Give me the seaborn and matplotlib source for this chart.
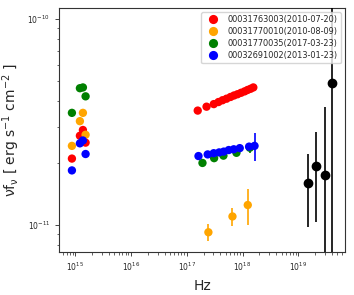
import numpy as np
import pandas as pd
import matplotlib
matplotlib.use("Agg")
import matplotlib.pyplot as plt
import seaborn as sns
from matplotlib.ticker import NullFormatter, LogLocator, FixedLocator

obs_ids = ["00031763003(2010-07-20)", "00031770010(2010-08-09)",
           "00031770035(2017-03-23)", "00032691002(2013-01-23)"]
colors = ["red", "orange", "green", "blue"]

# UVOT filters U, UVW1, UVM2, UVW2 (Hz)
uv_freq = [8.7e14, 1.21e15, 1.37e15, 1.53e15]
red_uv = [2.10e-11, 2.71e-11, 2.89e-11, 2.51e-11]
orange_uv = [2.42e-11, 3.19e-11, 3.50e-11, 2.74e-11]
green_uv = [3.50e-11, 4.61e-11, 4.65e-11, 4.21e-11]
blue_uv = [1.84e-11, 2.49e-11, 2.57e-11, 2.21e-11]

# XRT
red_x_freq = [1.57e17, 2.26e17, 3.05e17, 3.70e17, 4.37e17, 5.16e17, 6.08e17,
              7.03e17, 8.13e17, 9.40e17, 1.09e18, 1.23e18, 1.39e18, 1.56e18]
red_x_flux = [3.59e-11, 3.75e-11, 3.86e-11, 3.95e-11, 4.03e-11, 4.10e-11, 4.18e-11,
              4.25e-11, 4.31e-11, 4.38e-11, 4.45e-11, 4.52e-11, 4.58e-11, 4.65e-11]
red_x_err = [0.03e-11, 0.03e-11, 0.03e-11, 0.03e-11, 0.03e-11, 0.03e-11, 0.04e-11,
             0.04e-11, 0.04e-11, 0.05e-11, 0.06e-11, 0.08e-11, 0.10e-11, 0.20e-11]

orange_x_freq = [2.44e17, 6.59e17, 1.24e18]
orange_x_flux = [9.22e-12, 1.10e-11, 1.25e-11]
orange_x_err = [0.88e-12, 1.15e-12, 2.5e-12]

green_x_freq = [1.91e17, 3.09e17, 4.54e17, 7.77e17, 1.35e18]
green_x_flux = [2.00e-11, 2.11e-11, 2.17e-11, 2.24e-11, 2.37e-11]
green_x_err = [0.03e-11, 0.03e-11, 0.04e-11, 0.06e-11, 0.13e-11]

blue_x_freq = [1.62e17, 2.37e17, 3.04e17, 3.80e17, 4.60e17, 5.65e17, 6.95e17,
               8.90e17, 1.31e18, 1.64e18]
blue_x_flux = [2.16e-11, 2.20e-11, 2.23e-11, 2.25e-11, 2.27e-11, 2.31e-11, 2.33e-11,
               2.36e-11, 2.40e-11, 2.42e-11]
blue_x_err = [0.02e-11, 0.02e-11, 0.02e-11, 0.02e-11, 0.03e-11, 0.03e-11, 0.04e-11,
              0.05e-11, 0.08e-11, 0.38e-11]

# BAT
bat_freq = [1.51e19, 2.10e19, 2.95e19, 4.06e19]
bat_flux = [1.59e-11, 1.94e-11, 1.75e-11, 4.91e-11]
bat_err_lo = [0.61e-11, 0.91e-11, 1.80e-11, 5.0e-11]
bat_err_hi = [0.61e-11, 0.90e-11, 1.98e-11, 8.0e-11]

x_ticks = [1e15, 1e16, 1e17, 1e18, 1e19]
y_ticks = [1e-11, 1e-10]

uv_all = [red_uv, orange_uv, green_uv, blue_uv]
x_all = [(red_x_freq, red_x_flux, red_x_err),
         (orange_x_freq, orange_x_flux, orange_x_err),
         (green_x_freq, green_x_flux, green_x_err),
         (blue_x_freq, blue_x_flux, blue_x_err)]

rows = []
for oid, uv, (xf, xfl, xe) in zip(obs_ids, uv_all, x_all):
    for f, v in zip(uv_freq, uv):
        rows.append((oid, f, v, 0.0))
    for f, v, e in zip(xf, xfl, xe):
        rows.append((oid, f, v, e))
df = pd.DataFrame(rows, columns=["obs", "freq", "flux", "err"])

sns.set_style("ticks")
plt.rcParams["mathtext.default"] = "regular"

fig, ax = plt.subplots(figsize=(3.54, 2.95), dpi=100)
fig.subplots_adjust(left=0.167, right=0.975, top=0.973, bottom=0.146)

for oid, c in zip(obs_ids, colors):
    d = df[df.obs == oid]
    ax.errorbar(d.freq, d.flux, yerr=d.err, fmt="none", ecolor=c, elinewidth=1.2, zorder=2)

sns.scatterplot(data=df, x="freq", y="flux", hue="obs", palette=colors,
                s=36, linewidth=0, ax=ax, zorder=3)

ax.errorbar(bat_freq, bat_flux, yerr=[bat_err_lo, bat_err_hi], fmt="o", color="black",
            ms=6, elinewidth=1.2, zorder=3)

ax.set_xscale("log")
ax.set_yscale("log")
ax.set_xlim(10**14.71, 10**19.84)
ax.set_ylim(7.4e-12, 1.13e-10)
ax.xaxis.set_major_locator(FixedLocator(x_ticks))
ax.yaxis.set_major_locator(FixedLocator(y_ticks))
ax.xaxis.set_minor_locator(LogLocator(base=10, subs=np.arange(2, 10), numticks=20))
ax.yaxis.set_minor_formatter(NullFormatter())
ax.xaxis.set_minor_formatter(NullFormatter())
ax.tick_params(axis="both", which="major", labelsize=5.5, length=3, width=0.6)
ax.tick_params(axis="both", which="minor", length=1.8, width=0.5)
for sp in ax.spines.values():
    sp.set_linewidth(0.8)
    sp.set_color("#333333")

ax.set_xlabel("Hz", fontsize=10)
ax.set_ylabel("νf$_{ν}$ [ erg s$^{-1}$ cm$^{-2}$ ]", fontsize=10)
ax.legend(title=None, loc="upper right", fontsize=5.9, markerscale=1.1,
          handletextpad=0.8, borderpad=0.4, labelspacing=0.35)

fig.savefig("out.png", dpi=100)
